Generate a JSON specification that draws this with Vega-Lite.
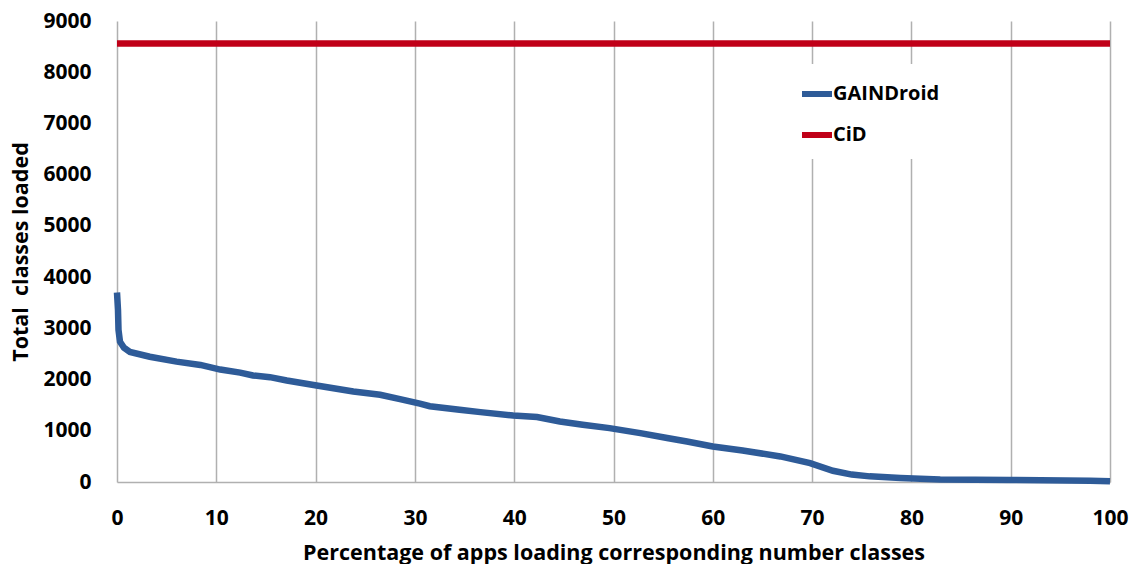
{
  "$schema": "https://vega.github.io/schema/vega-lite/v6.json",
  "autosize": "none",
  "width": 993,
  "height": 461,
  "padding": {"left": 117, "top": 21, "right": 24, "bottom": 82},
  "background": "white",
  "config": {
    "font": "Open Sans",
    "view": {"stroke": null}
  },
  "data": {
    "values": [
      {"series": "CiD", "pct": 0, "classes": 8560},
      {"series": "CiD", "pct": 100, "classes": 8560},
      {"series": "GAINDroid", "pct": 0, "classes": 3700},
      {"series": "GAINDroid", "pct": 0.1, "classes": 3360},
      {"series": "GAINDroid", "pct": 0.15, "classes": 2970},
      {"series": "GAINDroid", "pct": 0.3, "classes": 2740},
      {"series": "GAINDroid", "pct": 0.7, "classes": 2620},
      {"series": "GAINDroid", "pct": 1.3, "classes": 2540},
      {"series": "GAINDroid", "pct": 3.3, "classes": 2445},
      {"series": "GAINDroid", "pct": 6.0, "classes": 2350},
      {"series": "GAINDroid", "pct": 8.4, "classes": 2285},
      {"series": "GAINDroid", "pct": 10.4, "classes": 2195},
      {"series": "GAINDroid", "pct": 12.4, "classes": 2136},
      {"series": "GAINDroid", "pct": 13.7, "classes": 2080},
      {"series": "GAINDroid", "pct": 15.4, "classes": 2047},
      {"series": "GAINDroid", "pct": 17.1, "classes": 1981},
      {"series": "GAINDroid", "pct": 20.1, "classes": 1883},
      {"series": "GAINDroid", "pct": 23.8, "classes": 1766},
      {"series": "GAINDroid", "pct": 26.5, "classes": 1702},
      {"series": "GAINDroid", "pct": 28.5, "classes": 1618},
      {"series": "GAINDroid", "pct": 30.5, "classes": 1530},
      {"series": "GAINDroid", "pct": 31.5, "classes": 1480},
      {"series": "GAINDroid", "pct": 34.5, "classes": 1409},
      {"series": "GAINDroid", "pct": 36.6, "classes": 1364},
      {"series": "GAINDroid", "pct": 39.9, "classes": 1298},
      {"series": "GAINDroid", "pct": 42.3, "classes": 1267},
      {"series": "GAINDroid", "pct": 44.6, "classes": 1181},
      {"series": "GAINDroid", "pct": 46.9, "classes": 1117},
      {"series": "GAINDroid", "pct": 49.6, "classes": 1052},
      {"series": "GAINDroid", "pct": 52.7, "classes": 955},
      {"series": "GAINDroid", "pct": 55.4, "classes": 858},
      {"series": "GAINDroid", "pct": 57.4, "classes": 791},
      {"series": "GAINDroid", "pct": 60.0, "classes": 694},
      {"series": "GAINDroid", "pct": 63.0, "classes": 616},
      {"series": "GAINDroid", "pct": 66.8, "classes": 499},
      {"series": "GAINDroid", "pct": 69.8, "classes": 370},
      {"series": "GAINDroid", "pct": 72.1, "classes": 220},
      {"series": "GAINDroid", "pct": 74.0, "classes": 145},
      {"series": "GAINDroid", "pct": 75.8, "classes": 110},
      {"series": "GAINDroid", "pct": 78.9, "classes": 80},
      {"series": "GAINDroid", "pct": 82.9, "classes": 48},
      {"series": "GAINDroid", "pct": 89.9, "classes": 40},
      {"series": "GAINDroid", "pct": 98.0, "classes": 25},
      {"series": "GAINDroid", "pct": 100, "classes": 14}
    ]
  },
  "mark": {"type": "line", "strokeWidth": 6.5, "strokeCap": "butt", "clip": false},
  "encoding": {
    "x": {
      "field": "pct",
      "type": "quantitative",
      "scale": {"domain": [0, 100], "nice": false},
      "axis": {
        "values": [0, 10, 20, 30, 40, 50, 60, 70, 80, 90, 100],
        "title": "Percentage of apps loading corresponding number classes",
        "grid": true,
        "gridColor": "#b0b0b0",
        "gridWidth": 1.5,
        "domainColor": "#b0b0b0",
        "domainWidth": 1.5,
        "ticks": false,
        "labelPadding": 25,
        "labelFontSize": 21,
        "labelFontWeight": "bold",
        "labelColor": "black",
        "labelFlush": false,
        "titleFontSize": 21.5,
        "titleFontWeight": "bold",
        "titleColor": "black",
        "titlePadding": 14
      }
    },
    "y": {
      "field": "classes",
      "type": "quantitative",
      "scale": {"domain": [0, 9000], "nice": false},
      "axis": {
        "values": [0, 1000, 2000, 3000, 4000, 5000, 6000, 7000, 8000, 9000],
        "format": "d",
        "title": "Total\u00a0 classes loaded",
        "grid": false,
        "domain": false,
        "ticks": false,
        "labelPadding": 26,
        "labelFontSize": 21,
        "labelFontWeight": "bold",
        "labelColor": "black",
        "labelFlush": false,
        "titleFontSize": 21.5,
        "titleFontWeight": "bold",
        "titleColor": "black",
        "titlePadding": 10
      }
    },
    "color": {
      "field": "series",
      "type": "nominal",
      "scale": {"domain": ["GAINDroid", "CiD"], "range": ["#2e5b98", "#c00018"]},
      "legend": {
        "title": null,
        "orient": "none",
        "legendX": 670,
        "legendY": 43,
        "fillColor": "white",
        "padding": 12,
        "symbolType": "stroke",
        "symbolSize": 900,
        "symbolStrokeWidth": 6,
        "labelFontSize": 20,
        "labelFontWeight": "bold",
        "labelColor": "black",
        "labelOffset": -2,
        "rowPadding": 11
      }
    }
  }
}
